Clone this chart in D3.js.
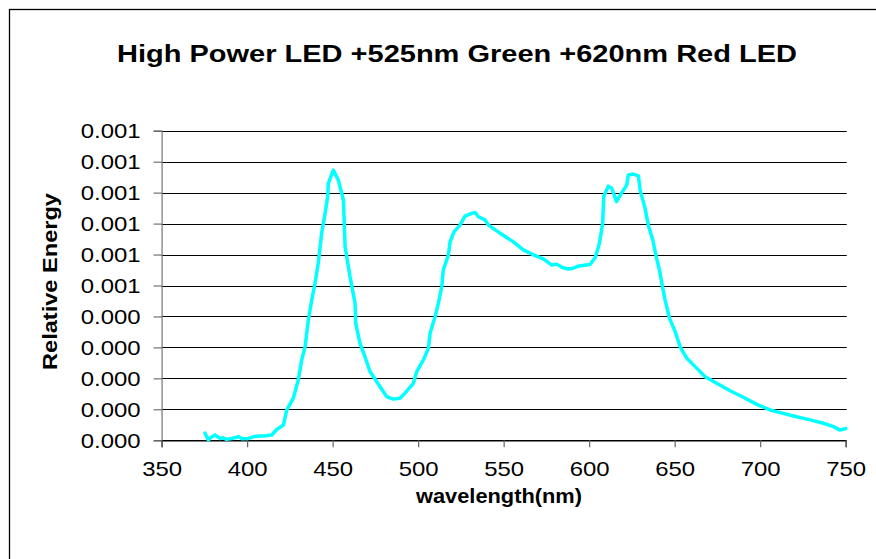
<!DOCTYPE html>
<html>
<head>
<meta charset="utf-8">
<script src="https://cdn.jsdelivr.net/npm/d3@7/dist/d3.min.js"></script>
<style>
  html, body { margin: 0; padding: 0; background: #fff; }
  svg { display: block; font-family: "Liberation Sans", Arial, sans-serif; }
</style>
</head>
<body>
<svg id="chart" width="876" height="559"></svg>
<script>
// Spectral output of a high-power LED with added 525 nm green and 620 nm red emitters
const wavelengths = [
  375.4, 377.3, 379, 381.2, 384.2, 386, 388, 391, 394.9, 397, 400.7, 404, 407.5, 411, 414.4,
  417.3, 421.2, 423.2, 427, 429.9, 431.9, 433.9, 435.8, 437.8, 439.7, 441.6, 443.6, 445.6,
  447.1, 447.5, 450.4, 453.3, 456.3, 457.3, 460.2, 463.1, 463.5, 466, 468.9, 471.9, 475.8,
  479.7, 481.6, 485.5, 489.4, 492.3, 497.2, 499.2, 503, 506, 507, 509.9, 511.8, 513.8, 514.7,
  517.7, 518.7, 521, 524.5, 527.4, 531.3, 533.3, 535.2, 539.1, 541.1, 547.9, 555.7, 561.5,
  567.4, 573.2, 578.1, 581.1, 584, 587.8, 590.8, 594, 600.5, 603.5, 606, 607.9, 608.5, 611.2,
  613.2, 616, 619.1, 622, 622.9, 625.8, 628.8, 629.8, 632.7, 634.6, 637.2, 639.2, 641.1,
  642.5, 644.4, 647, 650.3, 653.2, 657.1, 662, 667.8, 674.6, 682.4, 690.1, 698, 705.8, 713.5,
  721.3, 729.2, 737, 742.8, 746.7, 750
];
const energy = [
  0.000023, 0.000001, 0.000010, 0.000017, 0.000006, 0.000008, 0.000003, 0.000006, 0.000012,
  0.000005, 0.000006, 0.000012, 0.000014, 0.000015, 0.000017, 0.000035, 0.000049, 0.000098,
  0.000136, 0.000195, 0.000259, 0.000302, 0.000389, 0.000453, 0.000507, 0.000572, 0.000669,
  0.000733, 0.000787, 0.000830, 0.000873, 0.000841, 0.000776, 0.000625, 0.000528, 0.000443,
  0.000378, 0.000313, 0.000270, 0.000222, 0.000189, 0.000157, 0.000141, 0.000133, 0.000136,
  0.000152, 0.000184, 0.000222, 0.000259, 0.000297, 0.000346, 0.000399, 0.000442, 0.000496,
  0.000550, 0.000599, 0.000641, 0.000674, 0.000695, 0.000724, 0.000733, 0.000736, 0.000722,
  0.000712, 0.000695, 0.000669, 0.000641, 0.000615, 0.000599, 0.000586, 0.000566, 0.000569,
  0.000559, 0.000553, 0.000556, 0.000563, 0.000568, 0.000590, 0.000636, 0.000701, 0.000787,
  0.000821, 0.000814, 0.000771, 0.000800, 0.000825, 0.000857, 0.000860, 0.000854, 0.000808,
  0.000749, 0.000695, 0.000647, 0.000593, 0.000550, 0.000507, 0.000453, 0.000394, 0.000351,
  0.000302, 0.000265, 0.000238, 0.000205, 0.000184, 0.000160, 0.000139, 0.000116, 0.000098,
  0.000087, 0.000076, 0.000066, 0.000055, 0.000044, 0.000033, 0.000038
];

const xTickValues = [350, 400, 450, 500, 550, 600, 650, 700, 750];
const yTickValues = [0, 0.0001, 0.0002, 0.0003, 0.0004, 0.0005, 0.0006, 0.0007, 0.0008, 0.0009, 0.001];
const yTickLabels = ["0.000", "0.000", "0.000", "0.000", "0.000", "0.001", "0.001", "0.001", "0.001", "0.001", "0.001"];

const titleText = "High Power LED +525nm Green +620nm Red LED";
const xTitle = "wavelength(nm)";
const yTitle = "Relative Energy";

const svg = d3.select("#chart");
const plot = { left: 161.6, right: 845.7, top: 130.7, bottom: 440.3 };
const widen = 1.14; // glyphs are drawn a little wider than the font's natural advance

const x = d3.scaleLinear().domain([350, 750]).range([plot.left, plot.right]);
const y = d3.scaleLinear().domain([0, 0.001]).range([plot.bottom, plot.top]);

svg.append("rect").attr("width", 876).attr("height", 559).attr("fill", "#fff");

// chart frame (extends past the right and bottom edges)
svg.append("rect")
  .attr("x", 9.5).attr("y", 9.5)
  .attr("width", 900).attr("height", 600)
  .attr("fill", "none").attr("stroke", "#000").attr("stroke-width", 1.3);

// title
svg.append("text")
  .attr("x", 457).attr("y", 62)
  .attr("text-anchor", "middle")
  .attr("font-size", 24).attr("font-weight", "bold")
  .attr("textLength", 680).attr("lengthAdjust", "spacingAndGlyphs")
  .text(titleText);

// horizontal gridlines
svg.append("g").selectAll("line").data(yTickValues).join("line")
  .attr("x1", plot.left).attr("x2", plot.right + 1)
  .attr("y1", d => Math.round(y(d)) + 0.5).attr("y2", d => Math.round(y(d)) + 0.5)
  .attr("stroke", "#000").attr("stroke-width", 1);

function stretch(sel) {
  sel.each(function () {
    const len = this.getComputedTextLength();
    d3.select(this).attr("textLength", len * widen).attr("lengthAdjust", "spacingAndGlyphs");
  });
}

// y axis
const yAxis = d3.axisLeft(y).tickValues(yTickValues)
  .tickFormat((d, i) => yTickLabels[i]).tickSize(8).tickPadding(13);
const gy = svg.append("g").attr("transform", `translate(${plot.left},0)`).call(yAxis);
gy.select(".domain").attr("stroke", "#777").attr("stroke-width", 1.2);
gy.selectAll(".tick line").attr("stroke", "#555");
gy.selectAll(".tick text")
  .attr("font-size", 21).attr("fill", "#000")
  .attr("font-family", "'Liberation Sans', Arial, sans-serif")
  .call(stretch);

// x axis
const xAxis = d3.axisBottom(x).tickValues(xTickValues).tickFormat(d3.format("d"))
  .tickSize(7).tickPadding(14);
const gx = svg.append("g").attr("transform", `translate(0,${plot.bottom})`).call(xAxis);
gx.select(".domain").attr("stroke", "#000").attr("stroke-width", 1.2);
gx.selectAll(".tick line").attr("stroke", "#666").attr("stroke-width", 1.2);
gx.selectAll(".tick text")
  .attr("font-size", 21).attr("fill", "#000")
  .attr("font-family", "'Liberation Sans', Arial, sans-serif")
  .call(stretch);

// axis titles
svg.append("text")
  .attr("x", 499).attr("y", 503)
  .attr("text-anchor", "middle")
  .attr("font-size", 20).attr("font-weight", "bold")
  .attr("textLength", 166).attr("lengthAdjust", "spacingAndGlyphs")
  .text(xTitle);

svg.append("text")
  .attr("transform", "translate(57,281.5) rotate(-90)")
  .attr("text-anchor", "middle")
  .attr("font-size", 20).attr("font-weight", "bold")
  .attr("textLength", 177).attr("lengthAdjust", "spacingAndGlyphs")
  .text(yTitle);

// spectrum line
const series = wavelengths.map((w, i) => ({ w, v: energy[i] }));
const line = d3.line().x(d => x(d.w)).y(d => y(d.v));
svg.append("path")
  .datum(series)
  .attr("d", line)
  .attr("fill", "none")
  .attr("stroke", "#00FFFF")
  .attr("stroke-width", 3.5)
  .attr("stroke-linejoin", "round")
  .attr("stroke-linecap", "round");
</script>
</body>
</html>
